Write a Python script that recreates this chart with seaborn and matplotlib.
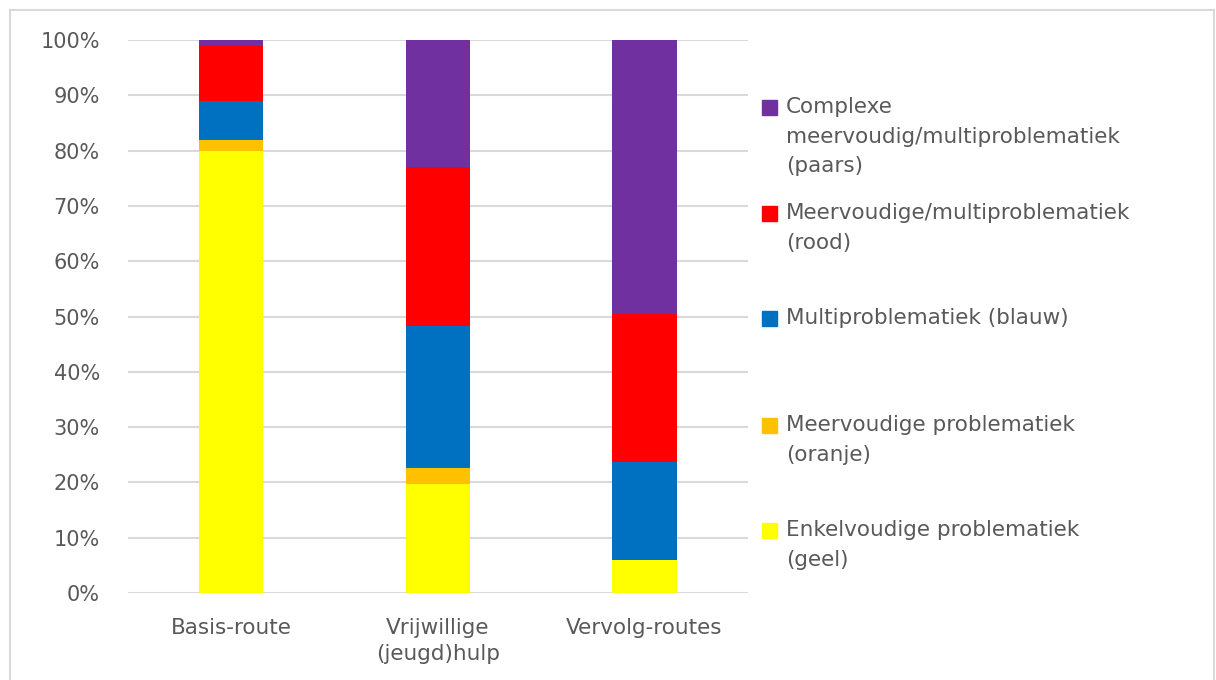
import numpy as np
import pandas as pd
import matplotlib
matplotlib.use("Agg")
import matplotlib.pyplot as plt
import seaborn as sns
from matplotlib.patches import Rectangle
from matplotlib.ticker import PercentFormatter

# --- data (aandeel per route, in %) ---
routes = ["Basis-route", "Vrijwillige\n(jeugd)hulp", "Vervolg-routes"]
geel = [80.0, 19.7, 6.0]
oranje = [2.0, 2.9, 0.0]
blauw = [7.0, 25.6, 17.7]
rood = [10.0, 28.9, 26.7]
paars = [1.0, 22.9, 49.6]

series_names = [
    "Enkelvoudige problematiek\n(geel)",
    "Meervoudige problematiek\n(oranje)",
    "Multiproblematiek (blauw)",
    "Meervoudige/multiproblematiek\n(rood)",
    "Complexe\nmeervoudig/multiproblematiek\n(paars)",
]
colors = ["#FFFF00", "#FFC000", "#0070C0", "#FF0000", "#7030A0"]

sns.set_theme(style="white")
plt.rcParams["font.family"] = ["DejaVu Sans"]
text_col = "#595959"

df = pd.DataFrame({"route": routes, "geel": geel, "oranje": oranje,
                   "blauw": blauw, "rood": rood, "paars": paars})
stack = df[["geel", "oranje", "blauw", "rood", "paars"]].cumsum(axis=1) / 100.0

fig = plt.figure(figsize=(12.16, 6.8), dpi=100)
ax = fig.add_axes([0.105, 0.128, 0.51, 0.813])

# gestapeld: van boven naar beneden over elkaar tekenen
for col, color in reversed(list(zip(stack.columns, colors))):
    sns.barplot(x=df["route"], y=stack[col], color=color, width=0.31,
                saturation=1, ax=ax, zorder=3, edgecolor="none")

ax.set_ylim(0, 1)
ax.set_yticks(np.arange(0, 1.01, 0.1))
ax.yaxis.set_major_formatter(PercentFormatter(1.0, decimals=0))
ax.grid(axis="y", color="#D9D9D9", linewidth=1.5, zorder=0)
ax.set_axisbelow(True)
for s in ax.spines.values():
    s.set_visible(False)
ax.set_xlabel("")
ax.set_ylabel("")
ax.tick_params(axis="y", length=0, labelsize=15, labelcolor=text_col, pad=20)
ax.tick_params(axis="x", length=0, labelsize=15.5, labelcolor=text_col, pad=18)
for lab in ax.get_xticklabels():
    lab.set_linespacing(1.4)

# legenda rechts
leg_x = 762 / 1216
leg_tops = [107, 213, 318, 425, 530]
for name, color, ytop in zip(reversed(series_names), reversed(colors), leg_tops):
    yf = 1 - ytop / 680
    fig.patches.append(Rectangle((leg_x, yf - 8 / 680), 15 / 1216, 15 / 680,
                                 transform=fig.transFigure, color=color))
    fig.text(786 / 1216, yf + 10 / 680, name, fontsize=15.5, color=text_col,
             va="top", ha="left", linespacing=1.6)

# kader om de grafiek
fig.patches.append(Rectangle((10 / 1216, -0.01), 1204 / 1216, 1 - 10 / 680 + 0.01,
                             transform=fig.transFigure, fill=False,
                             edgecolor="#D9D9D9", linewidth=1.5))

fig.savefig("out.png", dpi=100, facecolor="white")
